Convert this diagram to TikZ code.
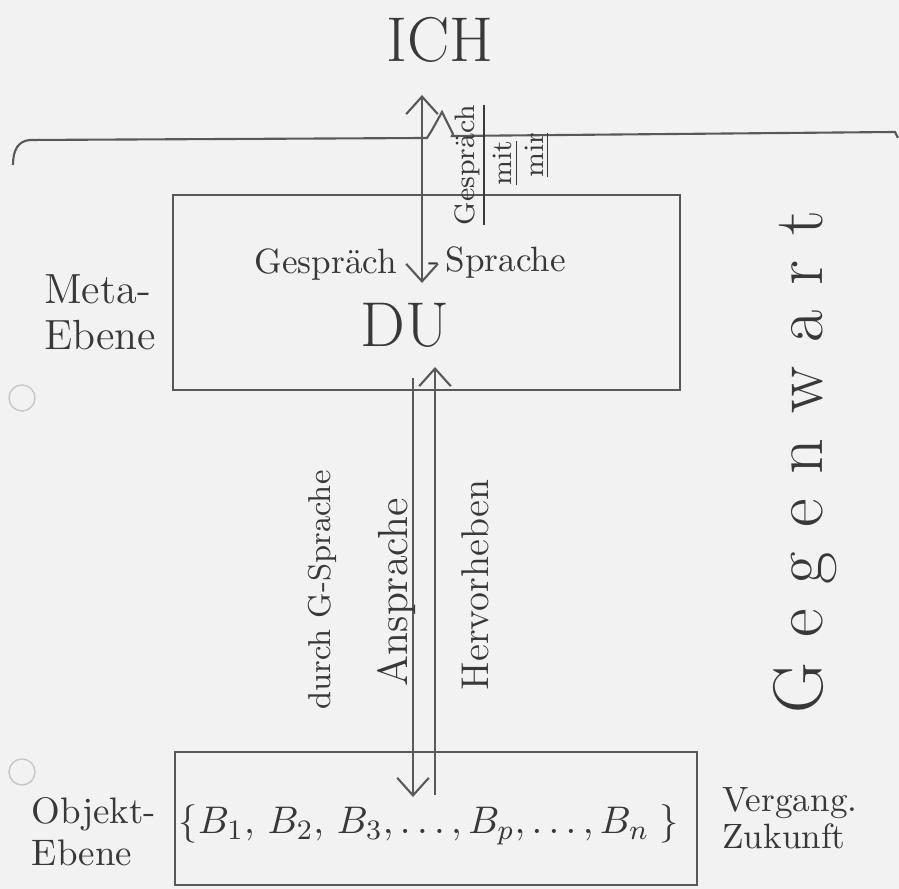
\documentclass[tikz,border=0pt]{standalone}
\usepackage{amsmath,amssymb}
\usepackage{tikz}
\usetikzlibrary{arrows.meta,positioning}

\begin{document}
\begin{tikzpicture}[
    x=0.01cm, y=-0.01cm,
    pencil/.style={draw=black!65, line width=0.6pt},
    ebene/.style={draw=black!65, line width=0.6pt, rectangle, inner sep=0pt},
    hand/.style={text=black!78, inner sep=1pt},
    sidelabel/.style={hand, align=left},
    pointer/.style={draw=black!65, line width=0.6pt, >={Straight Barb[length=5pt,width=9pt]}}
]
    % Paper
    \fill[black!5] (0,0) rectangle (899,889);
    \useasboundingbox (0,0) rectangle (899,889);

    % Punch holes
    \draw[black!22] (22,398) circle (0.13cm);
    \draw[black!22] (22,772) circle (0.13cm);

    % Upper border with hop
    \draw[pencil] (13,165) .. controls (13,150) and (18,141) .. (30,140)
        -- (427,138) -- (432,130) -- (442,112) -- (453,134) -- (452,136)
        -- (895,132) -- (898,138);

    % Levels
    \node[ebene, minimum width=5.07cm, minimum height=1.95cm] (meta) at (426.5,292.5) {};
    \node[ebene, minimum width=5.22cm, minimum height=1.33cm] (objekt) at (436,818.5) {};

    % Labels of the levels
    \node[sidelabel, font=\fontsize{12}{13}\selectfont] (metalabel) at (100,312) {Meta-\\Ebene};
    \node[sidelabel, font=\fontsize{10.5}{12}\selectfont] (objlabel) at (94,832) {Objekt-\\Ebene};
    \node[sidelabel, font=\fontsize{10}{10.5}\selectfont, right=0.2cm of objekt] (zeit) {Vergang.\\Zukunft};

    % ICH and DU
    \node[hand, font=\fontsize{18}{20}\selectfont] (ich) at (440,40) {ICH};
    \node[hand, font=\fontsize{18}{20}\selectfont] (du) at (405,325) {DU};
    \node[hand, font=\fontsize{10}{12}\selectfont, anchor=east] (gsp) at (401,265) {Gespräch};
    \node[hand, font=\fontsize{10}{12}\selectfont, anchor=west] (spr) at (424,263) {-\,Sprache};

    % Gespraech mit mir
    \node[hand, rotate=90, font=\fontsize{8}{9}\selectfont] (gmm) at (470,165) {\underline{Gespräch}};
    \node[hand, rotate=90, font=\fontsize{8}{9}\selectfont] (mit) at (506,163) {\underline{mit}};
    \node[hand, rotate=90, font=\fontsize{8}{9}\selectfont] (mir) at (537,155) {\underline{mir}};

    % Objects
    \node[hand, font=\fontsize{10.95}{13}\selectfont] (menge) at (429,825)
        {$\{B_1,\, B_2,\, B_3, \dots, B_p, \dots, B_n\;\}$};

    % Arrows
    \coordinate (ichfoot) at (422,95);
    \coordinate (dutop) at (422,283);
    \coordinate (downstart) at (413,378);
    \coordinate (downend) at (413,797);
    \coordinate (upstart) at (435,795);
    \coordinate (upend) at (435,367);
    \draw[pointer, <->] (ichfoot) -- (dutop);
    \draw[pointer, ->] (downstart) -- (downend);
    \draw[pointer, ->] (upstart) -- (upend);

    % Arrow labels
    \node[hand, rotate=90, font=\fontsize{9}{10}\selectfont] (durch) at (322,590) {durch G-Sprache};
    \node[hand, rotate=90, font=\fontsize{12}{14}\selectfont] (anspr) at (397,592) {Ansprache};
    \node[hand, rotate=90, font=\fontsize{11}{13}\selectfont] (herv) at (475,585) {Hervorheben};

    % Gegenwart
    \node[hand, rotate=90, font=\fontsize{20}{22}\selectfont] (gegenwart) at (805,462)
        {G\kern7pt e\kern7pt g\kern7pt e\kern7pt n\kern7pt w\kern7pt a\kern7pt r\kern7pt t};
\end{tikzpicture}
\end{document}
